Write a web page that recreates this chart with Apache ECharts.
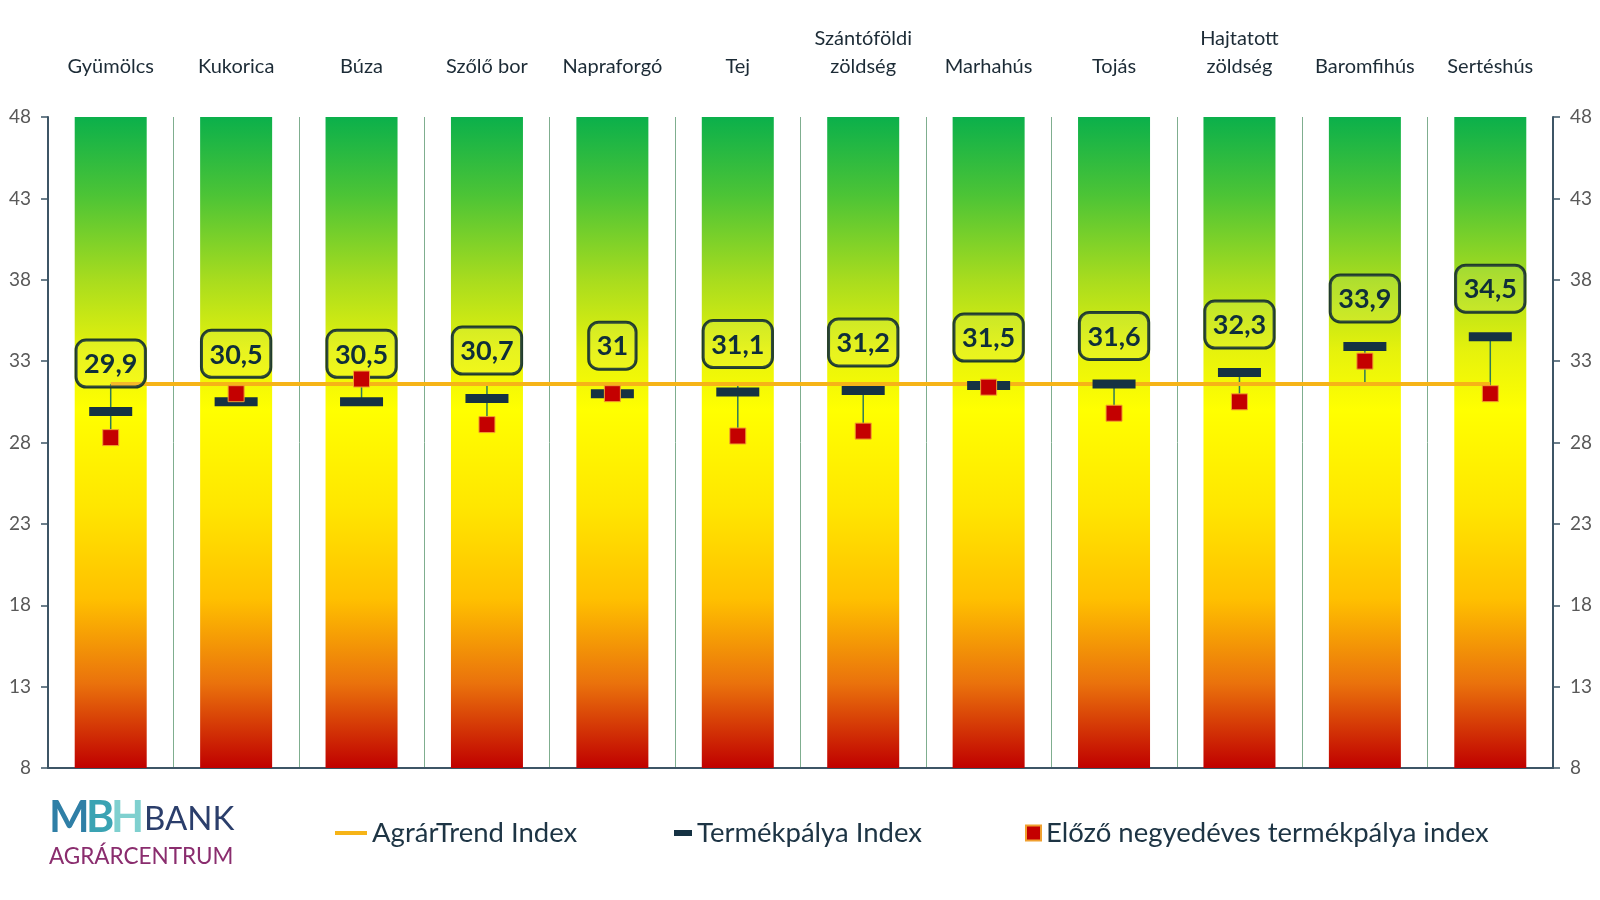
<!DOCTYPE html>
<html>
<head>
<meta charset="utf-8">
<script src="https://cdn.jsdelivr.net/npm/echarts@6/dist/echarts.min.js"></script>
<style>
  html, body { margin: 0; padding: 0; background: #fff; }
  #chart { width: 1600px; height: 900px; }
</style>
</head>
<body>
<div id="chart"></div>
<script>
const categories = ['Gyümölcs', 'Kukorica', 'Búza', 'Szőlő bor', 'Napraforgó', 'Tej',
    'Szántóföldi\nzöldség', 'Marhahús', 'Tojás', 'Hajtatott\nzöldség', 'Baromfihús', 'Sertéshús'];
const termekpalya = [29.9, 30.5, 30.5, 30.7, 31.0, 31.1, 31.2, 31.5, 31.6, 32.3, 33.9, 34.5];
const elozoNegyedev = [28.3, 31.0, 31.9, 29.1, 31.0, 28.4, 28.7, 31.4, 29.8, 30.5, 33.0, 31.0];
const agrarTrend = [31.6, 31.6, 31.6, 31.6, 31.6, 31.6, 31.6, 31.6, 31.6, 31.6, 31.6, 31.6];
const bandTop = [48, 48, 48, 48, 48, 48, 48, 48, 48, 48, 48, 48];
const yTicks = [8, 13, 18, 23, 28, 33, 38, 43, 48];

const FONT = 'Lato';
const chart = echarts.init(document.getElementById('chart'));

// high-low line across the three series, like the Excel original
const highLow = categories.map((c, i) => {
    const vals = [termekpalya[i], elozoNegyedev[i], agrarTrend[i]];
    return [i, Math.min(...vals), Math.max(...vals)];
});

const bandGradient = new echarts.graphic.LinearGradient(0, 0, 0, 1, [
    { offset: 0, color: '#0bb04b' },
    { offset: 0.12, color: '#4cc436' },
    { offset: 0.25, color: '#a8dc1e' },
    { offset: 0.36, color: '#e6f20c' },
    { offset: 0.45, color: '#ffff00' },
    { offset: 0.6, color: '#ffe600' },
    { offset: 0.74, color: '#ffc000' },
    { offset: 0.87, color: '#ea720c' },
    { offset: 1, color: '#c00000' }
]);

const yAxisBase = {
    type: 'value',
    min: 8,
    max: 48,
    splitLine: { show: false },
    axisLine: { show: true, lineStyle: { color: '#3d5566', width: 2 } },
    axisTick: { show: true, length: 7, customValues: yTicks, lineStyle: { color: '#3d5566', width: 1.5 } },
    axisLabel: { customValues: yTicks, color: '#595959', fontSize: 19, fontFamily: FONT, margin: 17 }
};

const legendText = { color: '#1d3444', fontSize: 27.5, fontFamily: FONT };

chart.setOption({
    animation: false,
    textStyle: { fontFamily: FONT },
    grid: { left: 48, right: 47, top: 117, bottom: 132 },
    xAxis: [{
        type: 'category',
        position: 'top',
        data: categories,
        axisLine: { show: false },
        axisTick: { show: false },
        axisLabel: { color: '#1c2b36', fontSize: 20, fontFamily: FONT, lineHeight: 28, margin: 36, interval: 0 },
        splitLine: { show: true, interval: 0, lineStyle: { color: '#7fae8f', width: 1 } }
    }, {
        type: 'category',
        position: 'bottom',
        data: categories,
        axisLine: { show: true, lineStyle: { color: '#3d5566', width: 2 } },
        axisTick: { show: false },
        axisLabel: { show: false }
    }],
    yAxis: [
        Object.assign({}, yAxisBase, { position: 'left' }),
        Object.assign({}, yAxisBase, { position: 'right' })
    ],
    legend: [{
        left: 330, top: 814,
        data: [{ name: 'AgrárTrend Index', icon: 'rect' }],
        itemWidth: 32, itemHeight: 4, itemGap: 0,
        textStyle: legendText
    }, {
        left: 669, top: 814,
        data: [{ name: 'Termékpálya Index', icon: 'rect' }],
        itemWidth: 18, itemHeight: 6,
        textStyle: legendText
    }, {
        left: 1020, top: 814,
        data: [{ name: 'Előző negyedéves termékpálya index', icon: 'rect' }],
        itemWidth: 15, itemHeight: 15,
        textStyle: legendText
    }],
    graphic: [
        { type: 'text', left: 49, top: 797, style: { text: 'M', fill: '#2f7fa6', font: 'bold 43px ' + FONT } },
        { type: 'text', left: 86, top: 797, style: { text: 'B', fill: '#3aa3b3', font: 'bold 43px ' + FONT } },
        { type: 'text', left: 111, top: 797, style: { text: 'H', fill: '#7fd0cf', font: 'bold 43px ' + FONT } },
        { type: 'text', left: 144, top: 803, style: { text: 'BANK', fill: '#2b3e6b', font: '33px ' + FONT } },
        { type: 'text', left: 49, top: 845, style: { text: 'AGRÁRCENTRUM', fill: '#8a2d6e', font: '22.5px ' + FONT } }
    ],
    series: [{
        type: 'bar',
        name: 'band',
        data: bandTop,
        barWidth: 72,
        itemStyle: { color: bandGradient },
        silent: true,
        z: 1
    }, {
        type: 'custom',
        name: 'highlow',
        data: highLow,
        encode: { x: 0, y: [1, 2] },
        renderItem: (params, api) => {
            const a = api.coord([api.value(0), api.value(1)]);
            const b = api.coord([api.value(0), api.value(2)]);
            return {
                type: 'line',
                shape: { x1: a[0], y1: a[1], x2: b[0], y2: b[1] },
                style: { stroke: '#2f7a5a', lineWidth: 1.5 }
            };
        },
        z: 3
    }, {
        type: 'line',
        name: 'AgrárTrend Index',
        data: agrarTrend,
        symbol: 'none',
        lineStyle: { color: '#f6b417', width: 4 },
        itemStyle: { color: '#f6b417' },
        z: 4
    }, {
        type: 'scatter',
        name: 'Termékpálya Index',
        data: termekpalya,
        symbol: 'rect',
        symbolSize: [43, 9],
        itemStyle: { color: '#153243', opacity: 1 },
        label: {
            show: true,
            position: 'top',
            distance: 20,
            formatter: p => String(p.value).replace('.', ','),
            color: '#0f2e3a',
            fontSize: 27,
            fontWeight: 'bold',
            fontFamily: FONT,
            borderColor: '#1f3b2a',
            borderWidth: 1.5,
            borderRadius: 10,
            backgroundColor: 'rgba(255,255,255,0.08)',
            padding: [11, 8, 9, 8]
        },
        z: 5
    }, {
        type: 'scatter',
        name: 'Előző negyedéves termékpálya index',
        data: elozoNegyedev,
        symbol: 'rect',
        symbolSize: 16,
        itemStyle: { color: '#c40000', borderColor: '#f0a030', borderWidth: 1, opacity: 1 },
        z: 6
    }]
});
</script>
</body>
</html>
